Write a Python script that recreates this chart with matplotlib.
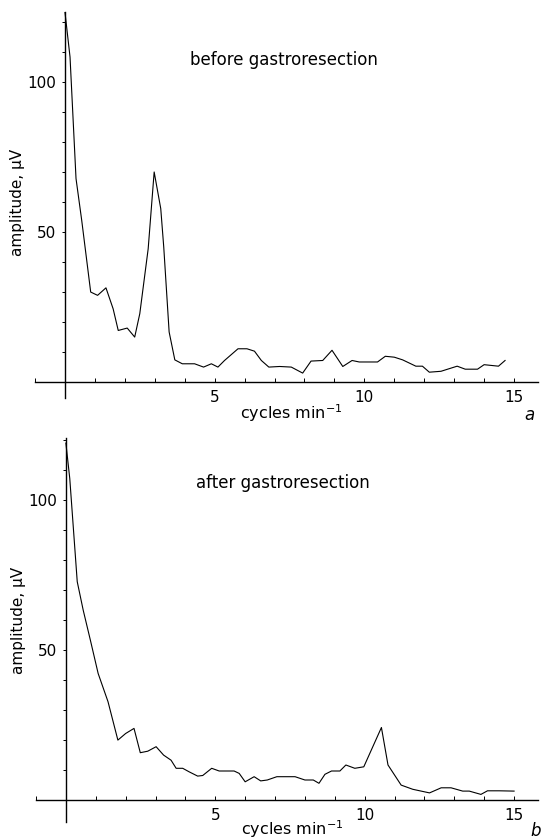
import matplotlib
matplotlib.use("Agg")
import matplotlib.pyplot as plt
from matplotlib.ticker import MultipleLocator

# before gastroresection (panel a)
freq_before = [0.0, 0.17, 0.37, 0.56, 0.86, 1.09, 1.37, 1.61, 1.78, 2.08, 2.33, 2.5,
               2.78, 2.98, 3.2, 3.3, 3.48, 3.67, 3.92, 4.33, 4.63, 4.89, 5.11, 5.33,
               5.78, 6.08, 6.33, 6.56, 6.81, 7.17, 7.56, 7.94, 8.22, 8.61, 8.92, 9.28,
               9.59, 9.83, 10.44, 10.7, 11.0, 11.28, 11.72, 11.94, 12.17, 12.56, 13.1,
               13.37, 13.78, 14.0, 14.48, 14.7]
amp_before = [123.3, 108.3, 67.8, 53.9, 30.0, 28.9, 31.4, 24.4, 17.2, 18.0, 15.0, 22.8,
              44.4, 70.0, 57.8, 45.0, 16.7, 7.4, 6.1, 6.1, 5.0, 6.1, 5.0, 7.2,
              11.1, 11.1, 10.3, 7.2, 5.0, 5.2, 5.0, 3.0, 7.0, 7.2, 10.6, 5.2,
              7.2, 6.7, 6.7, 8.6, 8.3, 7.4, 5.3, 5.3, 3.3, 3.6, 5.3,
              4.3, 4.3, 5.8, 5.3, 7.2]

# after gastroresection (panel b)
freq_after = [0.0, 0.13, 0.38, 0.58, 0.82, 1.08, 1.41, 1.74, 2.0, 2.28, 2.49, 2.74,
              3.02, 3.27, 3.52, 3.69, 3.91, 4.13, 4.41, 4.58, 4.88, 5.13, 5.63, 5.8,
              6.0, 6.3, 6.52, 6.74, 7.06, 7.67, 8.0, 8.28, 8.47, 8.67, 8.89, 9.17,
              9.37, 9.67, 9.97, 10.56, 10.78, 11.22, 11.61, 12.17, 12.56, 12.89,
              13.28, 13.5, 13.89, 14.11, 14.5, 15.0]
amp_after = [119.0, 107.2, 72.8, 63.3, 53.3, 42.2, 32.8, 20.0, 22.2, 23.9, 15.8, 16.3,
             17.8, 15.0, 13.3, 10.6, 10.6, 9.4, 8.0, 8.2, 10.6, 9.7, 9.7, 8.9,
             6.1, 7.8, 6.4, 6.7, 7.8, 7.8, 6.7, 6.7, 5.6, 8.6, 9.7, 9.7,
             11.7, 10.6, 11.1, 24.2, 11.7, 5.0, 3.6, 2.4, 4.1, 4.1,
             3.0, 3.0, 1.9, 3.1, 3.1, 3.0]

y_ticks = [50, 100]
x_ticks = [5, 10, 15]

plt.rcParams['font.family'] = ['DejaVu Sans']

W, H = 541, 839
fig = plt.figure(figsize=(W / 100, H / 100), dpi=100)


def make_panel(rect, x, y, title, title_xy, ylim, letter, letter_xy, xlab_y):
    ax = fig.add_axes(rect)
    ax.plot(x, y, color='black', lw=0.8)
    ax.set_xlim(-1.0, 15.8)
    ax.set_ylim(*ylim)

    for s in ('top', 'right'):
        ax.spines[s].set_visible(False)
    ax.spines['left'].set_position(('data', 0))
    ax.spines['bottom'].set_position(('data', 0))
    ax.spines['left'].set_linewidth(1.0)
    ax.spines['bottom'].set_linewidth(1.0)

    ax.set_xticks(x_ticks)
    ax.set_xticklabels([str(v) for v in x_ticks])
    ax.xaxis.set_minor_locator(MultipleLocator(1))
    ax.tick_params(axis='x', which='both', direction='in', length=3, width=0.7,
                   labelsize=11, pad=6)
    ax.set_yticks(y_ticks)
    ax.set_yticklabels([str(v) for v in y_ticks])
    ax.yaxis.set_minor_locator(MultipleLocator(10))
    ax.tick_params(axis='y', which='both', direction='out', length=2.5, width=0.7,
                   labelsize=11, pad=4)

    ax.text(title_xy[0], title_xy[1], title, ha='center', va='center', fontsize=12)
    ax.text(7.57, xlab_y, 'cycles min$^{-1}$', ha='center', va='center',
            fontsize=11.5, clip_on=False)
    ax.text(letter_xy[0], letter_xy[1], letter, ha='center', va='center',
            fontsize=12, style='italic', clip_on=False)
    ax.text(-1.58, 60, 'amplitude, \u03bcV', rotation=90,
            ha='center', va='center', fontsize=11, clip_on=False)
    return ax


# top panel: axes spans 35..538 px horizontally, 12..398 px vertically
make_panel([35 / W, 1 - 398 / H, 503 / W, 386 / H], freq_before, amp_before,
           'before gastroresection', (7.33, 107.3), (-5.3, 123.3),
           'a', (15.5, -11), -10.5)

# bottom panel: 36..538 px horizontally, 438..822 px vertically
make_panel([36 / W, 1 - 822 / H, 502 / W, 384 / H], freq_after, amp_after,
           'after gastroresection', (7.27, 105.7), (-7.3, 120.7),
           'b', (15.73, -10.2), -9.6)

fig.savefig('out.png', dpi=100)
